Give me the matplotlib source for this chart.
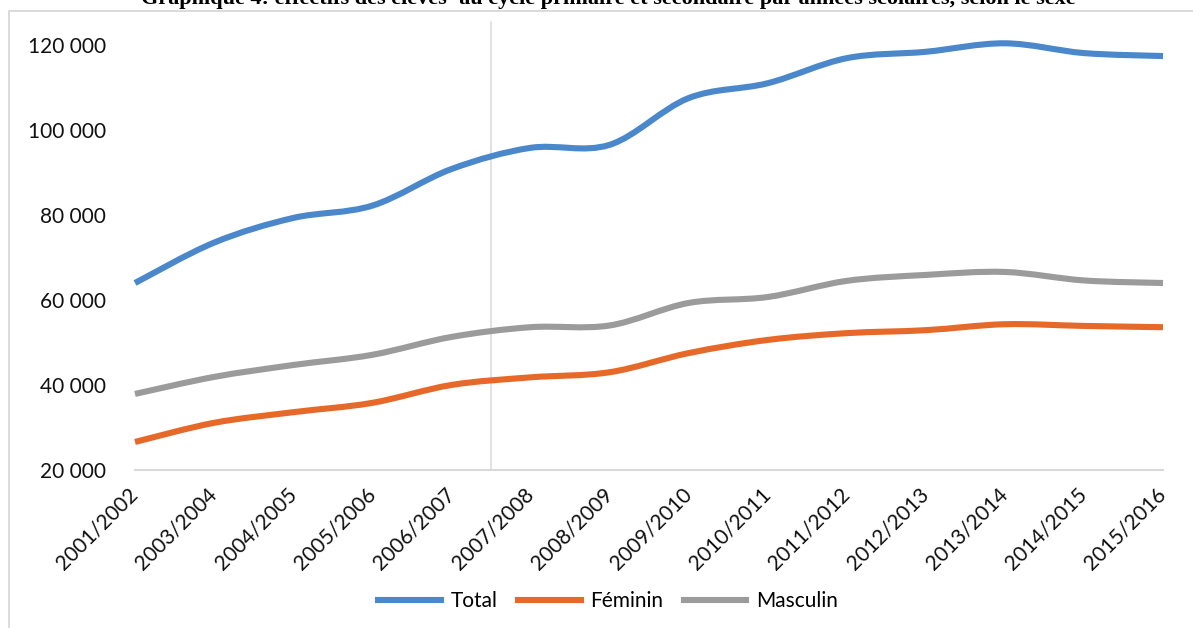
import matplotlib
matplotlib.use("Agg")
import matplotlib.pyplot as plt
import numpy as np
from matplotlib.path import Path
from matplotlib.patches import PathPatch, Rectangle
from matplotlib.lines import Line2D

plt.rcParams['font.family'] = ['Lato', 'DejaVu Sans']

# school years on the category axis
annees = ['2001/2002', '2003/2004', '2004/2005', '2005/2006', '2006/2007',
          '2007/2008', '2008/2009', '2009/2010', '2010/2011', '2011/2012',
          '2012/2013', '2013/2014', '2014/2015', '2015/2016']

# pupils enrolled, by sex
total = [64000, 73500, 79300, 82200, 90800, 95800, 96500,
         107500, 111000, 116900, 118400, 120400, 118100, 117400]
feminin = [26600, 31100, 33600, 35800, 40000, 41800, 43000,
           47500, 50600, 52200, 52900, 54300, 53900, 53600]
masculin = [37900, 41900, 44700, 47100, 51300, 53600, 54000,
            59300, 60700, 64500, 65900, 66600, 64600, 64000]

series = [('Total', total, '#4a88cb'),
          ('Féminin', feminin, '#e6692a'),
          ('Masculin', masculin, '#9b9b9b')]

LW = 4.4


def smooth_path(xs, ys):
    # cubic bezier through every point, spreadsheet-style smoothing
    pts = np.column_stack([xs, ys]).astype(float)
    n = len(pts)
    verts = [pts[0]]
    codes = [Path.MOVETO]
    for i in range(n - 1):
        p0 = pts[max(i - 1, 0)]
        p1 = pts[i]
        p2 = pts[i + 1]
        p3 = pts[min(i + 2, n - 1)]
        c1 = p1 + (p2 - p0) / 6.0
        c2 = p2 - (p3 - p1) / 6.0
        verts += [c1, c2, p2]
        codes += [Path.CURVE4] * 3
    return Path(verts, codes)


fig = plt.figure(figsize=(11.93, 6.28), dpi=100)
ax = fig.add_axes([135 / 1193, 158 / 628, 1028 / 1193, 425 / 628])

x = np.arange(len(annees))
for nom, vals, col in series:
    patch = PathPatch(smooth_path(x, vals), facecolor='none', edgecolor=col,
                      lw=LW, capstyle='butt', joinstyle='round', clip_on=False,
                      zorder=3)
    ax.add_patch(patch)

ax.set_xlim(0, len(annees) - 1)
ax.set_ylim(20000, 120000)
ax.set_yticks([20000, 40000, 60000, 80000, 100000, 120000])
ax.set_yticklabels(['20 000', '40 000', '60 000', '80 000', '100 000', '120 000'])
ax.set_xticks(x)
ax.set_xticklabels(annees, rotation=45, ha='right', va='center',
                   rotation_mode='anchor')

ax.tick_params(axis='y', length=0, pad=21, labelsize=15, labelcolor='#111111')
ax.tick_params(axis='x', length=0, pad=15, labelsize=15, labelcolor='#111111')
for s in ['top', 'right', 'left']:
    ax.spines[s].set_visible(False)
ax.spines['bottom'].set_color('#d9d9d9')
ax.spines['bottom'].set_linewidth(1.5)

# thin vertical rule between 2006/2007 and 2007/2008
ax.axvline(4.5, ymin=0, ymax=(470 - 22) / 425, color='#dddddd', lw=1.2,
           clip_on=False, zorder=1)

# chart frame
fig.patches.append(Rectangle((9 / 1193, -0.01), 1.0, 1 - 11 / 628 + 0.01,
                             transform=fig.transFigure, fill=False,
                             edgecolor='#d4d4d4', lw=1.2))

fig.text(608 / 1193, 1 - 4 / 628,
         'Graphique 4: effectifs des élèves\u00b9 au cycle primaire et secondaire '
         'par années scolaires, selon le sexe',
         ha='center', va='baseline', family='Liberation Serif',
         fontweight='bold', fontsize=16)

handles = [Line2D([], [], color=c, lw=LW) for _, _, c in series]
fig.legend(handles, [n for n, _, _ in series], loc='center',
           bbox_to_anchor=(608 / 1193, 1 - 601 / 628), ncol=3, frameon=False,
           fontsize=15, handlelength=3.0, handletextpad=0.45, columnspacing=1.0)

fig.savefig('out.png', dpi=100)
